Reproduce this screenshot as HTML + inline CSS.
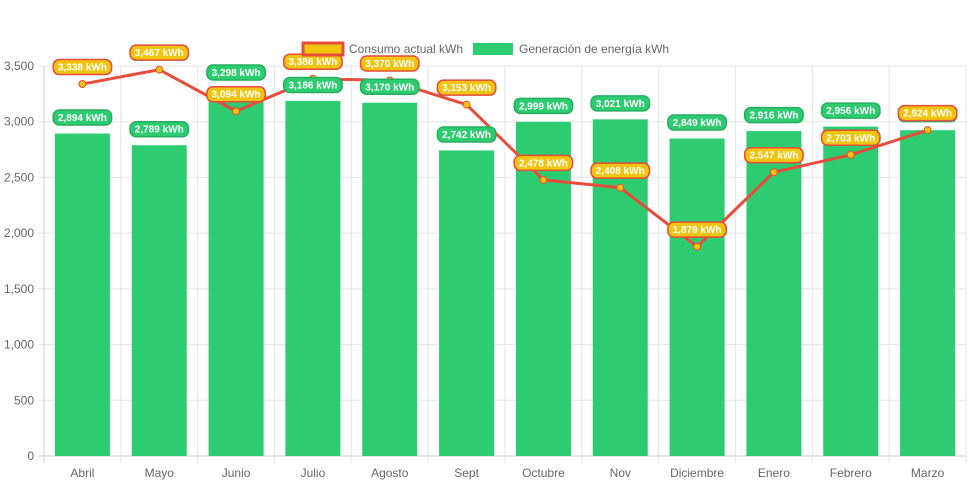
<!DOCTYPE html>
<html><head><meta charset="utf-8"><style>
body{margin:0;background:#fff;font-family:"Liberation Sans",sans-serif}
svg text{font-family:"Liberation Sans",sans-serif}
</style></head><body>
<svg id="c" width="971" height="485"></svg>
<script>
const categories=["Abril","Mayo","Junio","Julio","Agosto","Sept","Octubre","Nov","Diciembre","Enero","Febrero","Marzo"];
const generation=[2894,2789,3298,3186,3170,2742,2999,3021,2849,2916,2956,2924];
const consumption=[3338,3467,3094,3386,3370,3153,2478,2408,1879,2547,2703,2924];
const yTicks=[0,500,1000,1500,2000,2500,3000,3500];
const svg=document.getElementById('c');const NS='http://www.w3.org/2000/svg';
const L=44,R=966,T=66,B=456,MAX=3500;
const bw=(R-L)/categories.length;
const x=i=>L+bw*(i+0.5);
const y=v=>B-(v/MAX)*(B-T);
function el(t,a,p){const e=document.createElementNS(NS,t);for(const k in a)e.setAttribute(k,a[k]);(p||svg).appendChild(e);return e;}
const fmt=v=>v.toLocaleString('en-US');
yTicks.forEach(t=>{const g=el('line',{x1:L-6,x2:R,y1:y(t),y2:y(t),stroke:t===0?'#ccc':'#e5e5e5'});

const tx=el('text',{x:L-10,y:y(t)+4,'text-anchor':'end','font-size':12,fill:'#666'});tx.textContent=fmt(t);
});
for(let i=0;i<=categories.length;i++){const g=el('line',{x1:L+bw*i,x2:L+bw*i,y1:T,y2:B+7,stroke:i===0?'#ccc':'#e5e5e5'});
}
categories.forEach((c,i)=>{const t=el('text',{x:x(i),y:477,'text-anchor':'middle','font-size':12,fill:'#666'});t.textContent=c;
});
generation.forEach((v,i)=>{const r=el('rect',{x:x(i)-27.5,y:y(v),width:55,height:B-y(v),fill:'#2ecc71'});
});
let pts=consumption.map((v,i)=>x(i)+','+y(v)).join(' ');
const pl=el('polyline',{points:pts,fill:'none',stroke:'#e74c3c','stroke-width':3});

consumption.forEach((v,i)=>{const p=el('circle',{cx:x(i),cy:y(v),r:3.5,fill:'#f1c40f',stroke:'#e74c3c','stroke-width':1});
});
function label(cx,cy,txt,fill,stroke,name){const g=el('g',{});
const w=txt.length*5.6+8;el('rect',{x:cx-w/2,y:cy-7.5,width:w,height:15,rx:6,fill:fill,stroke:stroke,'stroke-width':1.5},g);
const t=el('text',{x:cx,y:cy+3.5,'text-anchor':'middle','font-size':10,'font-weight':'bold',fill:'#fff'},g);t.textContent=txt;}
generation.forEach((v,i)=>label(x(i),y(v)-16,fmt(v)+' kWh','#2ecc71','#27ae60','bar-value-label'));
consumption.forEach((v,i)=>label(x(i),y(v)-17,fmt(v)+' kWh','#f1c40f','#e74c3c','line-value-label'));
const lg=el('g',{});
const l1=el('rect',{x:303,y:43,width:40,height:12,fill:'#f1c40f',stroke:'#e74c3c','stroke-width':3},lg);

const t1=el('text',{x:349,y:53,'font-size':12,fill:'#666'},lg);t1.textContent='Consumo actual kWh';

const l2=el('rect',{x:473,y:43,width:40,height:12,fill:'#2ecc71'},lg);

const t2=el('text',{x:519,y:53,'font-size':12,fill:'#666'},lg);t2.textContent='Generación de energía kWh';

</script></body></html>
